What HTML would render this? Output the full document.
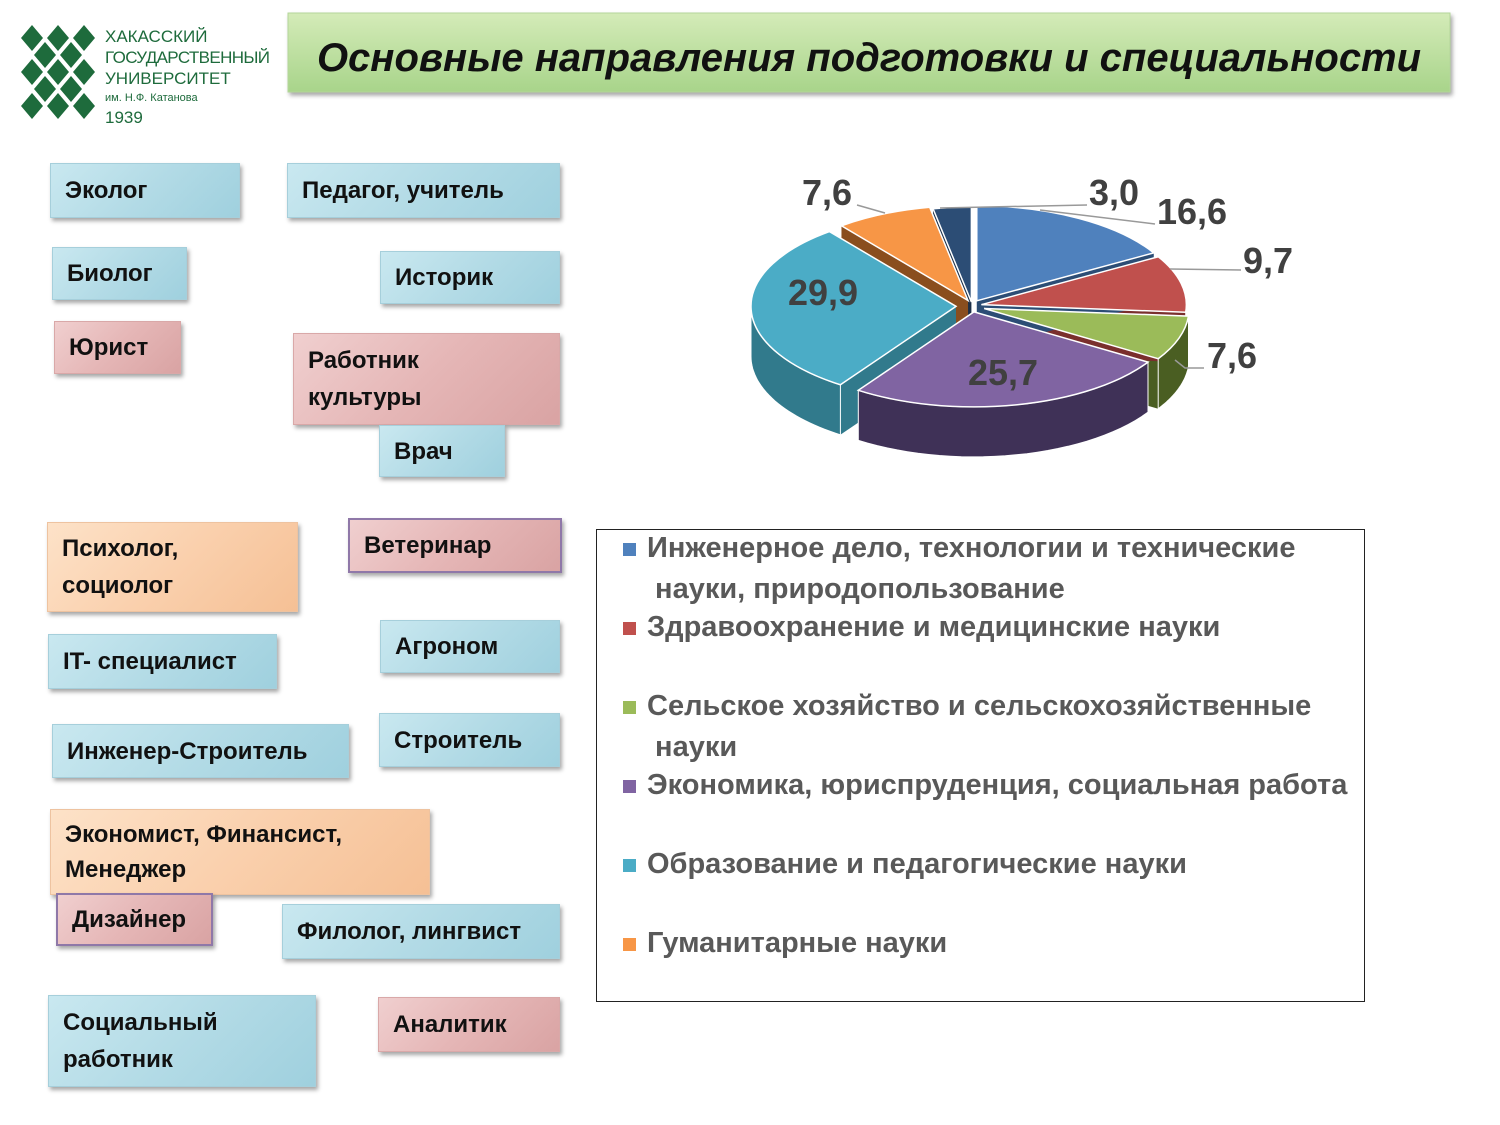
<!DOCTYPE html>
<html><head><meta charset="utf-8"><style>
body{margin:0;width:1500px;height:1125px;background:#fff;position:relative;overflow:hidden;font-family:"Liberation Sans",sans-serif}
.b{position:absolute;box-sizing:border-box;font-weight:bold;font-size:24px;color:#111;padding:0 14px;display:flex;align-items:center;line-height:37px;box-shadow:2px 3px 4px rgba(0,0,0,.35)}
.bl{background:linear-gradient(135deg,#c9e8f0 0%,#b3dbe6 50%,#9fd0de 100%);border:1px solid #a6cfdb}
.pk{background:linear-gradient(135deg,#f0cfcf 0%,#e5b6b6 50%,#d9a3a3 100%);border:1px solid #d9a8a8}
.pe{background:linear-gradient(135deg,#fde2c8 0%,#fad0ad 50%,#f5c095 100%);border:1px solid #eec3a0}
.pu{border:2px solid #8f78a8}
.lg{position:absolute;left:596px;top:529px;width:769px;height:473px;border:1.5px solid #222;box-sizing:border-box}
.li{position:absolute;left:50px;font-size:29px;font-weight:bold;color:#595959;line-height:41px;white-space:nowrap}
.sq{position:absolute;left:26px;width:13px;height:13px}
</style></head><body>
<svg style="position:absolute;left:0;top:0" width="1500" height="1125">
<g fill="#1e6b3c" id="logo"></g>
<g fill="#1e6b3c" font-family="Liberation Sans Narrow, Liberation Sans, sans-serif">
<text x="105" y="42" font-size="17">ХАКАССКИЙ</text>
<text x="105" y="63" font-size="17" textLength="165">ГОСУДАРСТВЕННЫЙ</text>
<text x="105" y="84" font-size="17">УНИВЕРСИТЕТ</text>
<text x="105" y="101" font-size="11">им. Н.Ф. Катанова</text>
<text x="105" y="123" font-size="17">1939</text>
</g>
<defs><linearGradient id="tg" x1="0" y1="0" x2="0" y2="1"><stop offset="0" stop-color="#d4ebb8"/><stop offset="1" stop-color="#a8d48a"/></linearGradient>
<filter id="sh"><feDropShadow dx="2" dy="3" stdDeviation="2" flood-opacity=".35"/></filter></defs>
<rect x="288" y="13" width="1162" height="79" fill="url(#tg)" stroke="#b4d69a" filter="url(#sh)"/>
<text x="869" y="71" text-anchor="middle" font-size="40" font-weight="bold" font-style="italic" fill="#111">Основные направления подготовки и специальности</text>
<g id="pie"></g>
<g font-size="36" font-weight="bold" fill="#404040">
<text x="802" y="205">7,6</text><text x="1089" y="205">3,0</text><text x="1157" y="224">16,6</text>
<text x="1243" y="273">9,7</text><text x="1207" y="368">7,6</text>
<text x="788" y="305">29,9</text><text x="968" y="385">25,7</text>
</g>
<g stroke="#999" fill="none" stroke-width="1.5">
<path d="M857 205 L885 213"/><path d="M940 208 L1087 205"/><path d="M1040 210 L1155 224"/>
<path d="M1170 269 L1241 270"/><path d="M1175 360 L1185 368 L1204 368"/>
</g>
</svg>
<script>
(function(){
var L='',pos=[[32,38],[58,38],[84,38],[45,55],[71,55],[32,72],[58,72],[84,72],[45,89],[71,89],[32,106],[58,106],[84,106]];
pos.forEach(function(p){L+='<path d="M'+p[0]+' '+(p[1]-13)+' l11 13 -11 13 -11 -13z"/>';});
document.getElementById('logo').innerHTML=L;
var cx=972,cy=306,rx=205,ry=95,d=50;
var vals=[16.6,9.7,7.6,25.7,29.9,7.6,3.0];
var top=['#4f81bd','#c0504d','#9bbb59','#8064a2','#4bacc6','#f79646','#2c4d75'];
var side=['#2c4d75','#7a2f2d','#4a5e22','#3f3157','#317a8c','#8a4e1e','#1b2f48'];
var off=[6,6,8,6,10,6,4];
var tot=vals.reduce(function(a,b){return a+b},0);
var g=document.getElementById('pie');var a=0;var sides='',tops='';
function P(x,y,t){return [x+rx*Math.sin(t),y-ry*Math.cos(t)];}
for(var i=0;i<vals.length;i++){
 var a0=a,a1=a+vals[i]/tot*2*Math.PI;a=a1;var m=(a0+a1)/2;
 var ox=off[i]*1.6*Math.sin(m),oy=-off[i]*Math.cos(m);
 var x=cx+ox,y=cy+oy;
 var s0=Math.max(a0,Math.PI/2),s1=Math.min(a1,1.5*Math.PI);
 if(s1>s0){
  var n=30,pts=[];
  for(var k=0;k<=n;k++){pts.push(P(x,y,s0+(s1-s0)*k/n));}
  var str='M'+pts.map(function(p){return p[0].toFixed(1)+' '+p[1].toFixed(1)}).join(' L');
  for(var k=n;k>=0;k--){str+=' L'+pts[k][0].toFixed(1)+' '+(pts[k][1]+d).toFixed(1);}
  str+='Z';
  sides+='<path d="'+str+'" fill="'+side[i]+'" stroke="#fff" stroke-width="1"/>';
 }
 var cut='';
 [a0,a1].forEach(function(t){var p=P(x,y,t);
  cut+='<path d="M'+x+' '+y+' L'+p[0]+' '+p[1]+' L'+p[0]+' '+(p[1]+d)+' L'+x+' '+(y+d)+'Z" fill="'+side[i]+'"/>';});
 sides=cut+sides;
 var p0=P(x,y,a0),p1=P(x,y,a1);
 var large=(a1-a0)>Math.PI?1:0;
 tops+='<path d="M'+x+' '+y+' L'+p0[0]+' '+p0[1]+' A'+rx+' '+ry+' 0 '+large+' 1 '+p1[0]+' '+p1[1]+'Z" fill="'+top[i]+'" stroke="#fff" stroke-width="1.5"/>';
}
g.innerHTML=sides+tops;
})();
</script>
<div class="b bl" style="left:50px;top:163px;width:190px;height:55px">Эколог</div>
<div class="b bl" style="left:287px;top:163px;width:273px;height:55px">Педагог, учитель</div>
<div class="b bl" style="left:52px;top:247px;width:135px;height:53px">Биолог</div>
<div class="b bl" style="left:380px;top:251px;width:180px;height:53px">Историк</div>
<div class="b pk" style="left:54px;top:321px;width:127px;height:53px">Юрист</div>
<div class="b pk" style="left:293px;top:333px;width:267px;height:92px">Работник<br>культуры</div>
<div class="b bl" style="left:379px;top:425px;width:126px;height:52px">Врач</div>
<div class="b pe" style="left:47px;top:522px;width:251px;height:90px">Психолог,<br>социолог</div>
<div class="b pk pu" style="left:348px;top:518px;width:214px;height:55px">Ветеринар</div>
<div class="b bl" style="left:48px;top:634px;width:229px;height:55px">IT- специалист</div>
<div class="b bl" style="left:380px;top:620px;width:180px;height:53px">Агроном</div>
<div class="b bl" style="left:52px;top:724px;width:297px;height:54px">Инженер-Строитель</div>
<div class="b bl" style="left:379px;top:713px;width:181px;height:54px">Строитель</div>
<div class="b pe" style="left:50px;top:809px;width:380px;height:86px;line-height:35px">Экономист, Финансист,<br>Менеджер</div>
<div class="b pk pu" style="left:56px;top:893px;width:157px;height:53px">Дизайнер</div>
<div class="b bl" style="left:282px;top:904px;width:278px;height:55px">Филолог, лингвист</div>
<div class="b bl" style="left:48px;top:995px;width:268px;height:92px">Социальный<br>работник</div>
<div class="b pk" style="left:378px;top:997px;width:182px;height:55px">Аналитик</div>
<div class="lg">
<div class="sq" style="top:13px;background:#4f81bd"></div><div class="li" style="top:-2px">Инженерное дело, технологии и технические<br>&nbsp;науки, природопользование</div>
<div class="sq" style="top:92px;background:#c0504d"></div><div class="li" style="top:77px">Здравоохранение и медицинские науки</div>
<div class="sq" style="top:171px;background:#9bbb59"></div><div class="li" style="top:156px">Сельское хозяйство и сельскохозяйственные<br>&nbsp;науки</div>
<div class="sq" style="top:250px;background:#8064a2"></div><div class="li" style="top:235px">Экономика, юриспруденция, социальная работа</div>
<div class="sq" style="top:329px;background:#4bacc6"></div><div class="li" style="top:314px">Образование и педагогические науки</div>
<div class="sq" style="top:408px;background:#f79646"></div><div class="li" style="top:393px">Гуманитарные науки</div>
</div>
</body></html>
